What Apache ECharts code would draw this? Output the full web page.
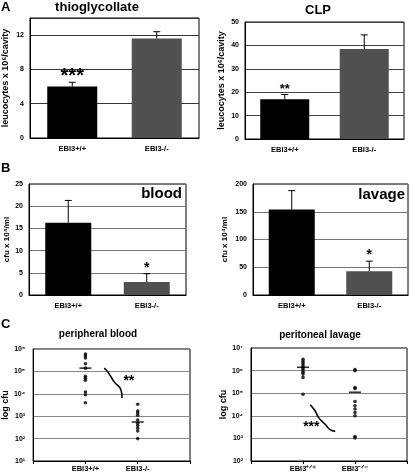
<!DOCTYPE html>
<html><head><meta charset="utf-8">
<script src="https://cdn.jsdelivr.net/npm/echarts@6/dist/echarts.min.js"></script>
<style>html,body{margin:0;padding:0;background:#fff}#c{width:410px;height:475px}</style>
</head><body><div id="c"></div>
<script>
// ---- data ----
var categories = ['EBI3+/+', 'EBI3-/-'];
// A: thioglycollate
var thioMean = [6.0, 11.6];
var thioUpper = [6.5, 12.4];
var thioStars = ['***', ''];
// A: CLP
var clpMean = [17, 38.5];
var clpUpper = [19, 44.5];
var clpStars = ['**', ''];
// B: blood
var bloodMean = [16.3, 2.9];
var bloodUpper = [21.3, 4.8];
var bloodStars = ['', '*'];
// B: lavage
var lavageMean = [154, 43];
var lavageUpper = [188, 61];
var lavageStars = ['', '*'];
// C: peripheral blood (log cfu)
var periphWT = [6e5, 5e5, 4e5, 2.2e5, 1.4e5, 6e4, 5e4, 4e4, 1.2e4, 9e3, 4e3];
var periphKO = [3.4e3, 1.7e3, 1.4e3, 1.1e3, 6.8e2, 4.8e2, 3.8e2, 2.9e2, 2.2e2, 1e2];
var periphMedian = [1.4e5, 5.5e2];
// C: peritoneal lavage
var lavWT = [3.2e6, 2.6e6, 2.1e6, 1.7e6, 1.4e6, 1.2e6, 1e6, 8.5e5, 7e5, 5e5, 9e4];
var lavKO = [1.1e6, 1e6, 1.8e5, 1.6e5, 4.3e4, 2.8e4, 2e4, 1.4e4, 1e4, 1.2e3, 1.05e3];
var lavMedian = [1.4e6, 1.1e5];
// annotation curves (axis coordinates)
var curveLeftX = [1.36, 1.43, 1.55, 1.68, 1.70];
var curveLeftY = [1.4e5, 9.3e4, 3.4e4, 1.5e4, 6.5e3];
var curveRightX = [1.14, 1.24, 1.30, 1.43, 1.52, 1.62];
var curveRightY = [3.1e4, 1.55e4, 8.3e3, 4.1e3, 2.45e3, 2.05e3];

var FONT = '"Liberation Sans", Arial, sans-serif';
var SUP = {'0':'⁰','1':'¹','2':'²','3':'³','4':'⁴','5':'⁵','6':'⁶','7':'⁷','8':'⁸','9':'⁹'};

var chart = echarts.init(document.getElementById('c'));

var grids = [
  {left: 30, right: 211, top: 18, bottom: 337},
  {left: 245, right: 6, top: 22, bottom: 336},
  {left: 29, right: 224, top: 184, bottom: 180},
  {left: 253, right: 2, top: 184, bottom: 180},
  {left: 31, right: 220, top: 349, bottom: 14},
  {left: 251, right: 1, top: 348, bottom: 14}
].map(function (g) {
  return Object.assign({show: true, borderColor: '#000', borderWidth: 1, backgroundColor: 'transparent'}, g);
});

var tickLabel = {fontFamily: FONT, fontSize: 7, fontWeight: 'bold', color: '#000'};
function catX(i, fs) {
  return {type: 'category', gridIndex: i, data: categories,
    axisLine: {lineStyle: {color: '#000'}}, axisTick: {show: false},
    axisLabel: Object.assign({}, tickLabel, {fontSize: fs || 7.5, margin: 7})};
}
function valY(i, max, interval, name, gap, gridColor, nameSize) {
  return {type: 'value', gridIndex: i, min: 0, max: max, interval: interval,
    name: name, nameLocation: 'middle', nameGap: gap,
    nameTextStyle: {fontFamily: FONT, fontSize: nameSize || 9, fontWeight: 'bold', color: '#000'},
    axisLine: {show: true, lineStyle: {color: '#000'}}, axisTick: {show: false},
    axisLabel: Object.assign({}, tickLabel, {margin: 6, showMaxLabel: max % interval === 0}),
    splitLine: {show: true, lineStyle: {color: gridColor, width: 1}}};
}
function supFmt(v) {
  var e = String(Math.round(Math.log(v) / Math.LN10));
  return '10' + e.split('').map(function (c) { return SUP[c]; }).join('');
}
function logY(i, min, max, gap) {
  return {type: 'log', logBase: 10, gridIndex: i, min: min, max: max,
    name: 'log cfu', nameLocation: 'middle', nameGap: gap,
    nameTextStyle: {fontFamily: FONT, fontSize: 9, fontWeight: 'bold', color: '#000'},
    axisLine: {show: true, lineStyle: {color: '#000'}}, axisTick: {show: false},
    axisLabel: Object.assign({}, tickLabel, {margin: 8, formatter: supFmt}),
    splitLine: {show: true, lineStyle: {color: '#888', width: 1}}};
}
function numX(i, labels, fs) {
  return {type: 'value', gridIndex: i, min: 0, max: 3, interval: 1,
    axisLine: {lineStyle: {color: '#000'}},
    axisTick: {show: true, length: 3, inside: false, lineStyle: {color: '#000'}},
    splitLine: {show: false},
    axisLabel: Object.assign({}, tickLabel, {fontSize: fs, margin: 4,
      formatter: function (v) { return v === 1 ? labels[0] : (v === 2 ? labels[1] : ''); }})};
}

function barSeries(i, means, barWidth) {
  return {type: 'bar', xAxisIndex: i, yAxisIndex: i, barWidth: barWidth,
    data: means.map(function (m, k) {
      return {value: m, itemStyle: {color: k === 0 ? '#000' : '#505050'}};
    }), silent: true};
}
function errSeries(i, means, uppers, stars, starSize, starGap) {
  return {type: 'custom', xAxisIndex: i, yAxisIndex: i, silent: true, z: 5,
    data: means.map(function (m, k) { return [k, m, uppers[k]]; }),
    renderItem: function (params, api) {
      var k = api.value(0);
      var base = api.coord([k, api.value(1)]);
      var top = api.coord([k, api.value(2)]);
      var children = [
        {type: 'line', shape: {x1: base[0], y1: base[1], x2: top[0], y2: top[1]}, style: {stroke: '#000', lineWidth: 1}},
        {type: 'line', shape: {x1: top[0] - 3.5, y1: top[1], x2: top[0] + 3.5, y2: top[1]}, style: {stroke: '#000', lineWidth: 1}}
      ];
      var s = stars[k];
      if (s) {
        children.push({type: 'text', style: {text: s, x: top[0], y: top[1] - starGap,
          font: 'bold ' + starSize + 'px ' + FONT, fill: '#000', align: 'center', verticalAlign: 'middle'}});
      }
      return {type: 'group', children: children};
    }};
}
function dots(i, x, vals) {
  return {type: 'scatter', xAxisIndex: i, yAxisIndex: i, symbol: 'circle', symbolSize: 3.6,
    itemStyle: {color: '#000'}, silent: true,
    data: vals.map(function (v) { return [x, v]; })};
}
function medians(i, vals) {
  return {type: 'scatter', xAxisIndex: i, yAxisIndex: i, symbol: 'rect', symbolSize: [12, 1.6],
    itemStyle: {color: '#000'}, silent: true, z: 4,
    data: vals.map(function (v, k) { return [k + 1, v]; })};
}
function curve(i, xs, ys) {
  return {type: 'line', xAxisIndex: i, yAxisIndex: i, smooth: true, showSymbol: false, silent: true,
    lineStyle: {color: '#000', width: 1.6},
    data: xs.map(function (x, k) { return [x, ys[k]]; })};
}
function starText(i, x, y, txt, size) {
  return {type: 'custom', xAxisIndex: i, yAxisIndex: i, silent: true, data: [[x, y]],
    renderItem: function (params, api) {
      var p = api.coord([api.value(0), api.value(1)]);
      return {type: 'text', style: {text: txt, x: p[0], y: p[1], font: 'bold ' + size + 'px ' + FONT,
        fill: '#000', align: 'center', verticalAlign: 'middle'}};
    }};
}

var option = {
  animation: false,
  backgroundColor: '#fff',
  grid: grids,
  xAxis: [catX(0), catX(1), catX(2), catX(3),
    numX(4, ['EBI3+/+', 'EBI3-/-'], 7.5),
    numX(5, ['EBI3⁺ᐟ⁺', 'EBI3⁻ᐟ⁻'], 7.5)],
  yAxis: [
    valY(0, 14, 4, 'leucocytes x 10⁶/cavity', 20, '#333', 9),
    valY(1, 50, 10, 'leucocytes x 10⁶/cavity', 19, '#444', 9),
    valY(2, 25, 5, 'cfu x 10⁴/ml', 18, '#777', 8),
    valY(3, 200, 50, 'cfu x 10⁴/ml', 24, '#777', 8),
    logY(4, 10, 1e6, 21),
    logY(5, 100, 1e7, 21)
  ],
  series: [
    barSeries(0, thioMean, 50), errSeries(0, thioMean, thioUpper, thioStars, 20, 6),
    barSeries(1, clpMean, 49), errSeries(1, clpMean, clpUpper, clpStars, 13, 5),
    barSeries(2, bloodMean, 46), errSeries(2, bloodMean, bloodUpper, bloodStars, 14, 6),
    barSeries(3, lavageMean, 46), errSeries(3, lavageMean, lavageUpper, lavageStars, 14, 6),
    dots(4, 1, periphWT), dots(4, 2, periphKO), medians(4, periphMedian),
    curve(4, curveLeftX, curveLeftY), starText(4, 1.83, 3.6e4, '**', 14),
    dots(5, 1, lavWT), dots(5, 2, lavKO), medians(5, lavMedian),
    curve(5, curveRightX, curveRightY), starText(5, 1.16, 3.2e3, '***', 14)
  ],
  graphic: [
    {type: 'text', x: 1, y: 1, style: {text: 'A', font: 'bold 13px ' + FONT, fill: '#000'}},
    {type: 'text', x: 1, y: 162, style: {text: 'B', font: 'bold 13px ' + FONT, fill: '#000'}},
    {type: 'text', x: 1, y: 318, style: {text: 'C', font: 'bold 13px ' + FONT, fill: '#000'}},
    {type: 'text', x: 97, y: 7, style: {text: 'thioglycollate', font: 'bold 13px ' + FONT, fill: '#000', align: 'center', verticalAlign: 'middle'}},
    {type: 'text', x: 318, y: 10, style: {text: 'CLP', font: 'bold 13px ' + FONT, fill: '#000', align: 'center', verticalAlign: 'middle'}},
    {type: 'text', x: 182, y: 194, style: {text: 'blood', font: 'bold 15px ' + FONT, fill: '#000', align: 'right', verticalAlign: 'middle'}},
    {type: 'text', x: 405, y: 195, style: {text: 'lavage', font: 'bold 15px ' + FONT, fill: '#000', align: 'right', verticalAlign: 'middle'}},
    {type: 'text', x: 98, y: 334, style: {text: 'peripheral blood', font: 'bold 10px ' + FONT, fill: '#000', align: 'center', verticalAlign: 'middle'}},
    {type: 'text', x: 320, y: 335, style: {text: 'peritoneal lavage', font: 'bold 10px ' + FONT, fill: '#000', align: 'center', verticalAlign: 'middle'}}
  ]
};
chart.setOption(option);
</script>
</body></html>
